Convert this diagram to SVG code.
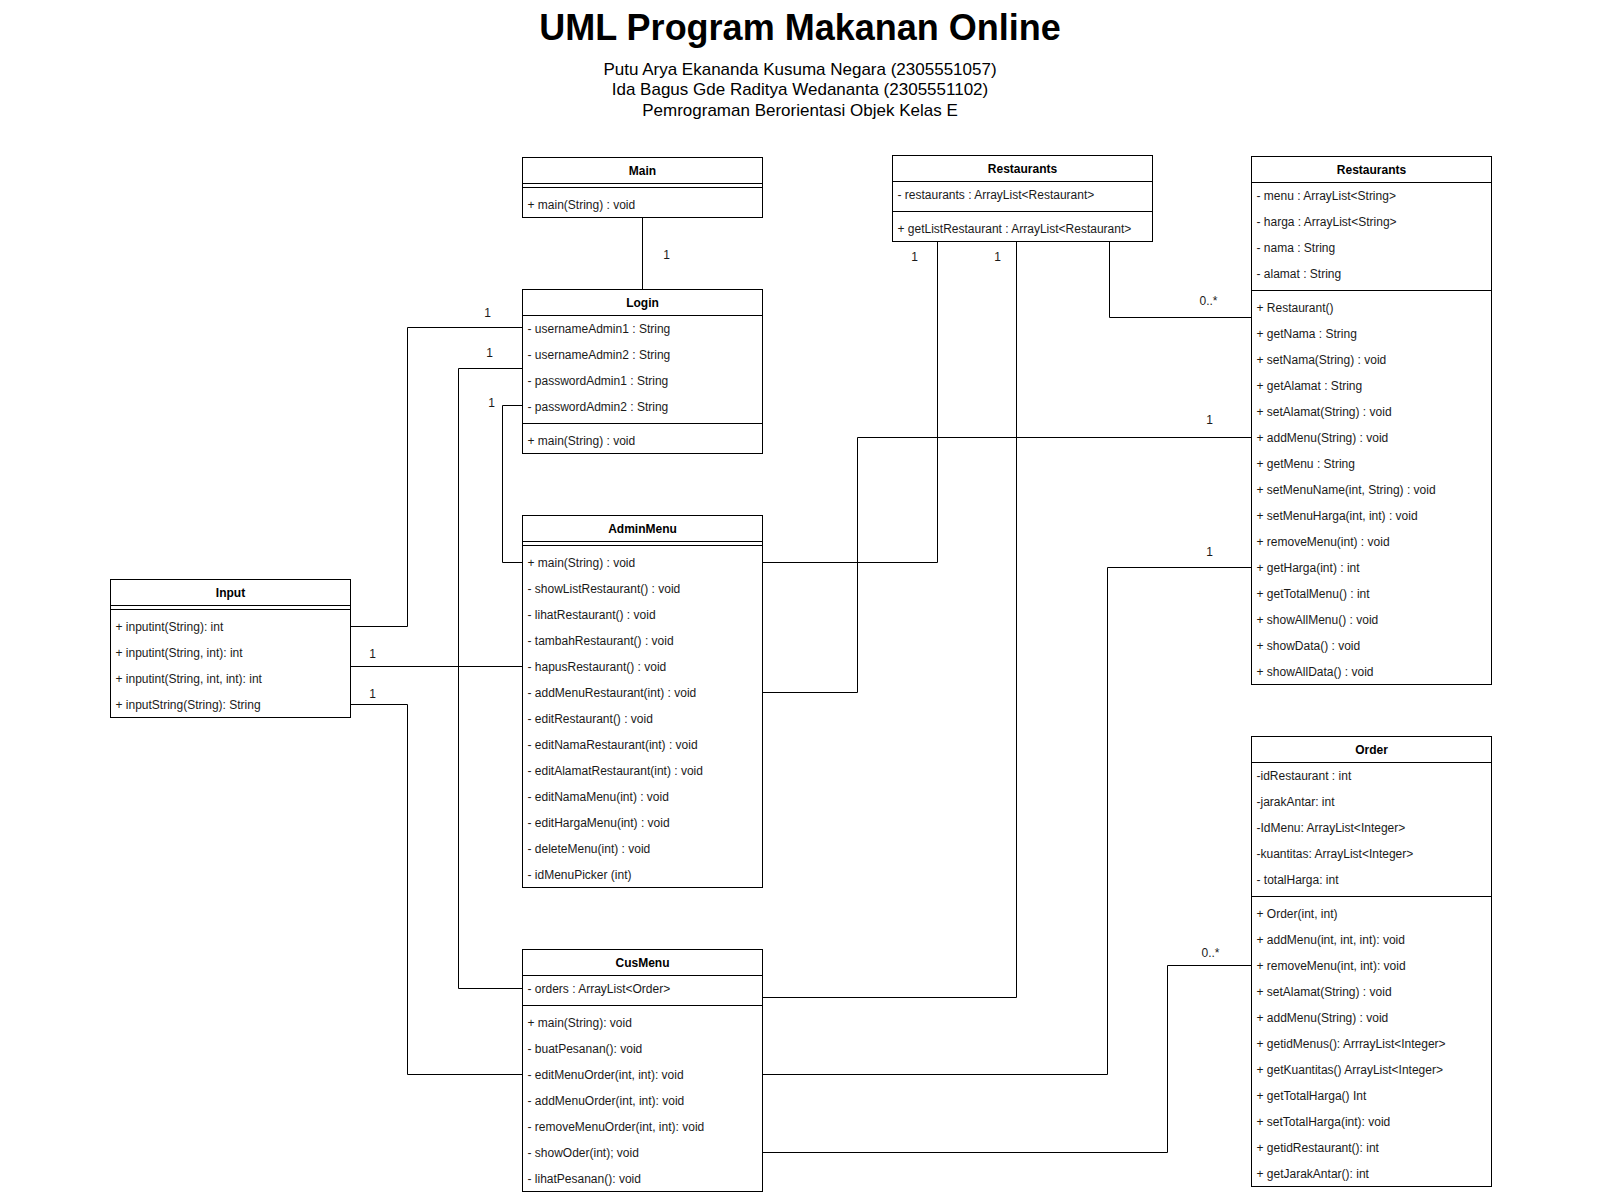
<svg xmlns="http://www.w3.org/2000/svg" width="1600" height="1200" viewBox="0 0 1600 1200">
<style>
.box{fill:#fff;stroke:#000;stroke-width:1}
.ln{stroke:#000;stroke-width:1;fill:none}
.t{font-family:"Liberation Sans",Arial,sans-serif;font-size:12px;fill:#1a1a1a}
.h{font-family:"Liberation Sans",Arial,sans-serif;font-size:12px;font-weight:bold;fill:#000;text-anchor:middle}
.lbl{font-family:"Liberation Sans",Arial,sans-serif;font-size:12px;fill:#1a1a1a;text-anchor:middle}
.title{font-family:"Liberation Sans",Arial,sans-serif;font-size:36px;font-weight:bold;fill:#000;text-anchor:middle}
.sub{font-family:"Liberation Sans",Arial,sans-serif;font-size:17px;fill:#000;text-anchor:middle}
</style>
<rect width="1600" height="1200" fill="#fff"/>
<g id="title">
<text class="title" x="800" y="40">UML Program Makanan Online</text>
<text class="sub" x="800" y="75">Putu Arya Ekananda Kusuma Negara (2305551057)</text>
<text class="sub" x="800" y="95">Ida Bagus Gde Raditya Wedananta (2305551102)</text>
<text class="sub" x="800" y="116">Pemrograman Berorientasi Objek Kelas E</text>
</g>
<g transform="translate(0.5,0.5)">
<g id="connectors">
<polyline class="ln" points="642,217 642,289"/>
<polyline class="ln" points="522,327 407,327 407,626 350,626"/>
<polyline class="ln" points="522,368 458,368 458,988 522,988"/>
<polyline class="ln" points="522,405 502,405 502,562 522,562"/>
<polyline class="ln" points="350,666 522,666"/>
<polyline class="ln" points="350,704 407,704 407,1074 522,1074"/>
<polyline class="ln" points="762,562 937,562 937,241"/>
<polyline class="ln" points="762,692 857,692 857,437 1251,437"/>
<polyline class="ln" points="1109,241 1109,317 1251,317"/>
<polyline class="ln" points="762,997 1016,997 1016,241"/>
<polyline class="ln" points="762,1074 1107,1074 1107,567 1251,567"/>
<polyline class="ln" points="762,1152 1167,1152 1167,965 1251,965"/>
<text class="lbl" x="666" y="258">1</text>
<text class="lbl" x="487" y="316">1</text>
<text class="lbl" x="489" y="356">1</text>
<text class="lbl" x="491" y="406">1</text>
<text class="lbl" x="372" y="657">1</text>
<text class="lbl" x="372" y="697">1</text>
<text class="lbl" x="914" y="260">1</text>
<text class="lbl" x="997" y="260">1</text>
<text class="lbl" x="1208" y="304">0..*</text>
<text class="lbl" x="1209" y="423">1</text>
<text class="lbl" x="1209" y="555">1</text>
<text class="lbl" x="1210" y="956">0..*</text>
</g>
<g id="Main">
<rect class="box" x="522" y="157" width="240" height="60"/>
<line class="ln" x1="522" y1="183" x2="762" y2="183"/>
<line class="ln" x1="522" y1="187" x2="762" y2="187"/>
<text class="h" x="642" y="174">Main</text>
<text class="t" x="527" y="208">+ main(String) : void</text>
</g>
<g id="Login">
<rect class="box" x="522" y="289" width="240" height="164"/>
<line class="ln" x1="522" y1="315" x2="762" y2="315"/>
<line class="ln" x1="522" y1="423" x2="762" y2="423"/>
<text class="h" x="642" y="306">Login</text>
<text class="t" x="527" y="332">- usernameAdmin1 : String</text>
<text class="t" x="527" y="358">- usernameAdmin2 : String</text>
<text class="t" x="527" y="384">- passwordAdmin1 : String</text>
<text class="t" x="527" y="410">- passwordAdmin2 : String</text>
<text class="t" x="527" y="444">+ main(String) : void</text>
</g>
<g id="AdminMenu">
<rect class="box" x="522" y="515" width="240" height="372"/>
<line class="ln" x1="522" y1="541" x2="762" y2="541"/>
<line class="ln" x1="522" y1="545" x2="762" y2="545"/>
<text class="h" x="642" y="532">AdminMenu</text>
<text class="t" x="527" y="566">+ main(String) : void</text>
<text class="t" x="527" y="592">- showListRestaurant() : void</text>
<text class="t" x="527" y="618">- lihatRestaurant() : void</text>
<text class="t" x="527" y="644">- tambahRestaurant() : void</text>
<text class="t" x="527" y="670">- hapusRestaurant() : void</text>
<text class="t" x="527" y="696">- addMenuRestaurant(int) : void</text>
<text class="t" x="527" y="722">- editRestaurant() : void</text>
<text class="t" x="527" y="748">- editNamaRestaurant(int) : void</text>
<text class="t" x="527" y="774">- editAlamatRestaurant(int) : void</text>
<text class="t" x="527" y="800">- editNamaMenu(int) : void</text>
<text class="t" x="527" y="826">- editHargaMenu(int) : void</text>
<text class="t" x="527" y="852">- deleteMenu(int) : void</text>
<text class="t" x="527" y="878">- idMenuPicker (int)</text>
</g>
<g id="Input">
<rect class="box" x="110" y="579" width="240" height="138"/>
<line class="ln" x1="110" y1="605" x2="350" y2="605"/>
<line class="ln" x1="110" y1="609" x2="350" y2="609"/>
<text class="h" x="230" y="596">Input</text>
<text class="t" x="115" y="630">+ inputint(String): int</text>
<text class="t" x="115" y="656">+ inputint(String, int): int</text>
<text class="t" x="115" y="682">+ inputint(String, int, int): int</text>
<text class="t" x="115" y="708">+ inputString(String): String</text>
</g>
<g id="CusMenu">
<rect class="box" x="522" y="949" width="240" height="242"/>
<line class="ln" x1="522" y1="975" x2="762" y2="975"/>
<line class="ln" x1="522" y1="1005" x2="762" y2="1005"/>
<text class="h" x="642" y="966">CusMenu</text>
<text class="t" x="527" y="992">- orders : ArrayList&lt;Order&gt;</text>
<text class="t" x="527" y="1026">+ main(String): void</text>
<text class="t" x="527" y="1052">- buatPesanan(): void</text>
<text class="t" x="527" y="1078">- editMenuOrder(int, int): void</text>
<text class="t" x="527" y="1104">- addMenuOrder(int, int): void</text>
<text class="t" x="527" y="1130">- removeMenuOrder(int, int): void</text>
<text class="t" x="527" y="1156">- showOder(int); void</text>
<text class="t" x="527" y="1182">- lihatPesanan(): void</text>
</g>
<g id="RestaurantsList">
<rect class="box" x="892" y="155" width="260" height="86"/>
<line class="ln" x1="892" y1="181" x2="1152" y2="181"/>
<line class="ln" x1="892" y1="211" x2="1152" y2="211"/>
<text class="h" x="1022" y="172">Restaurants</text>
<text class="t" x="897" y="198">- restaurants : ArrayList&lt;Restaurant&gt;</text>
<text class="t" x="897" y="232">+ getListRestaurant : ArrayList&lt;Restaurant&gt;</text>
</g>
<g id="Restaurant">
<rect class="box" x="1251" y="156" width="240" height="528"/>
<line class="ln" x1="1251" y1="182" x2="1491" y2="182"/>
<line class="ln" x1="1251" y1="290" x2="1491" y2="290"/>
<text class="h" x="1371" y="173">Restaurants</text>
<text class="t" x="1256" y="199">- menu : ArrayList&lt;String&gt;</text>
<text class="t" x="1256" y="225">- harga : ArrayList&lt;String&gt;</text>
<text class="t" x="1256" y="251">- nama : String</text>
<text class="t" x="1256" y="277">- alamat : String</text>
<text class="t" x="1256" y="311">+ Restaurant()</text>
<text class="t" x="1256" y="337">+ getNama : String</text>
<text class="t" x="1256" y="363">+ setNama(String) : void</text>
<text class="t" x="1256" y="389">+ getAlamat : String</text>
<text class="t" x="1256" y="415">+ setAlamat(String) : void</text>
<text class="t" x="1256" y="441">+ addMenu(String) : void</text>
<text class="t" x="1256" y="467">+ getMenu : String</text>
<text class="t" x="1256" y="493">+ setMenuName(int, String) : void</text>
<text class="t" x="1256" y="519">+ setMenuHarga(int, int) : void</text>
<text class="t" x="1256" y="545">+ removeMenu(int) : void</text>
<text class="t" x="1256" y="571">+ getHarga(int) : int</text>
<text class="t" x="1256" y="597">+ getTotalMenu() : int</text>
<text class="t" x="1256" y="623">+ showAllMenu() : void</text>
<text class="t" x="1256" y="649">+ showData() : void</text>
<text class="t" x="1256" y="675">+ showAllData() : void</text>
</g>
<g id="Order">
<rect class="box" x="1251" y="736" width="240" height="450"/>
<line class="ln" x1="1251" y1="762" x2="1491" y2="762"/>
<line class="ln" x1="1251" y1="896" x2="1491" y2="896"/>
<text class="h" x="1371" y="753">Order</text>
<text class="t" x="1256" y="779">-idRestaurant : int</text>
<text class="t" x="1256" y="805">-jarakAntar: int</text>
<text class="t" x="1256" y="831">-IdMenu: ArrayList&lt;Integer&gt;</text>
<text class="t" x="1256" y="857">-kuantitas: ArrayList&lt;Integer&gt;</text>
<text class="t" x="1256" y="883">- totalHarga: int</text>
<text class="t" x="1256" y="917">+ Order(int, int)</text>
<text class="t" x="1256" y="943">+ addMenu(int, int, int): void</text>
<text class="t" x="1256" y="969">+ removeMenu(int, int): void</text>
<text class="t" x="1256" y="995">+ setAlamat(String) : void</text>
<text class="t" x="1256" y="1021">+ addMenu(String) : void</text>
<text class="t" x="1256" y="1047">+ getidMenus(): ArrrayList&lt;Integer&gt;</text>
<text class="t" x="1256" y="1073">+ getKuantitas() ArrayList&lt;Integer&gt;</text>
<text class="t" x="1256" y="1099">+ getTotalHarga() Int</text>
<text class="t" x="1256" y="1125">+ setTotalHarga(int): void</text>
<text class="t" x="1256" y="1151">+ getidRestaurant(): int</text>
<text class="t" x="1256" y="1177">+ getJarakAntar(): int</text>
</g>
</g>
</svg>
